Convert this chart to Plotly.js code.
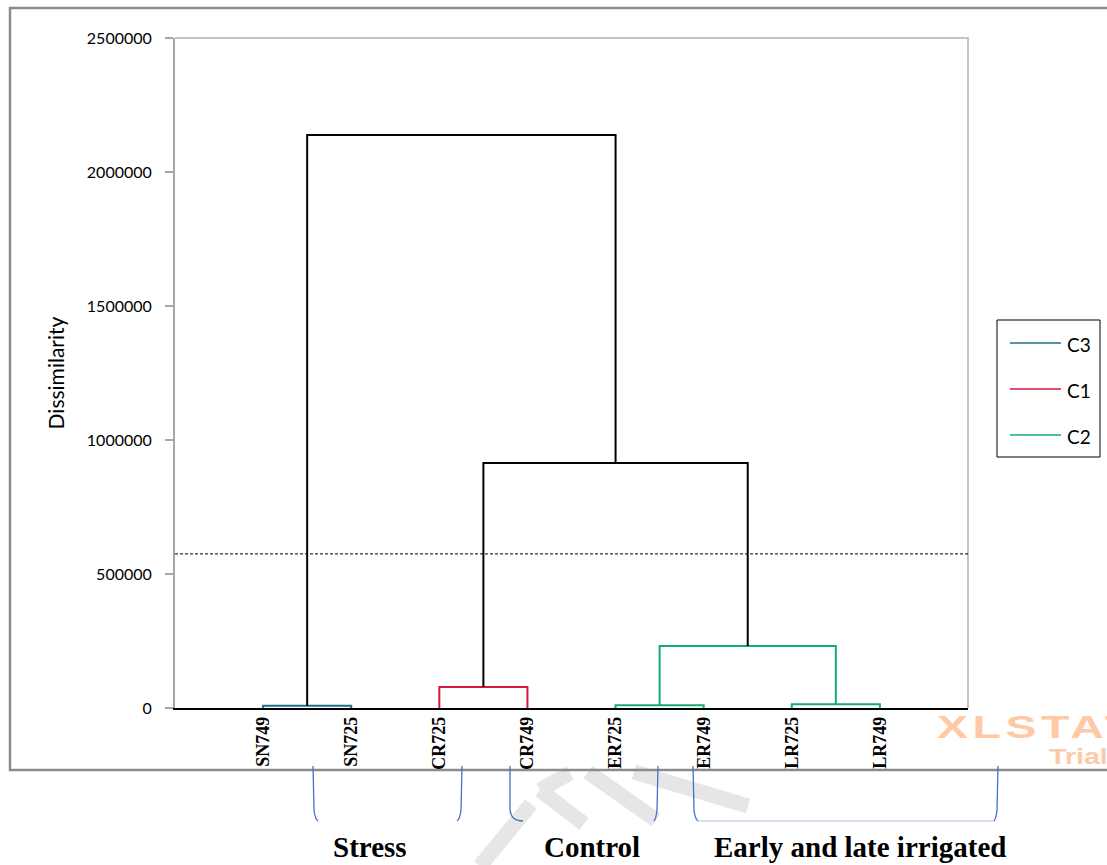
<!DOCTYPE html>
<html><head><meta charset="utf-8">
<script src="https://cdn.plot.ly/plotly-3.0.1.min.js"></script>
<style>html,body{margin:0;padding:0;background:#fff;overflow:hidden}</style>
</head><body><div id="chart" style="width:1107px;height:865px"></div>
<script>
// ---- data ----
const leaves = ["SN749","SN725","CR725","CR749","ER725","ER749","LR725","LR749"];
const leafPos = [1,2,3,4,5,6,7,8];
// node ids: 0-7 leaves, 8+ merges in order
const mergeLeft   = [0, 2, 4, 6, 10, 9, 8];
const mergeRight  = [1, 3, 5, 7, 11, 12, 13];
const mergeHeight = [8000, 78000, 10000, 14000, 231000, 914000, 2138000];
const mergeCluster = ["C3","C1","C2","C2","C2","",""];
const clusterNames  = ["C3","C1","C2"];
const clusterColors = ["#1f6e8c","#d6163f","#15ac6f"];
const truncationLevel = 575000;
const yTicks = [0,500000,1000000,1500000,2000000,2500000];
const groupLabels = ["Stress","Control","Early and late irrigated"];

// ---- build dendrogram ----
const nodeX = leafPos.slice(), nodeH = leaves.map(()=>0);
const segs = {};
mergeLeft.forEach((l,k)=>{
  const r = mergeRight[k], h = mergeHeight[k];
  const key = mergeCluster[k] || "black";
  if(!segs[key]) segs[key] = {x:[],y:[]};
  segs[key].x.push(nodeX[l], nodeX[l], nodeX[r], nodeX[r], null);
  segs[key].y.push(nodeH[l], h, h, nodeH[r], null);
  nodeX.push((nodeX[l]+nodeX[r])/2); nodeH.push(h);
});
const traces = [];
clusterNames.forEach((c,i)=>{
  traces.push({x:segs[c].x, y:segs[c].y, mode:"lines", type:"scatter", name:c,
    showlegend:false, line:{color:clusterColors[i], width:2}, hoverinfo:"skip"});
});
traces.push({x:segs.black.x, y:segs.black.y, mode:"lines", type:"scatter", name:"",
  showlegend:false, line:{color:"#000", width:2}, hoverinfo:"skip"});

// ---- pixel helpers for decorations (plot area 175..968 x 38..708) ----
const PL=175, PR=968, PT=38, PB=708;
const fx = p => (p-PL)/(PR-PL);
const fy = p => (PB-p)/(PB-PT);
function path(cmds){
  return cmds.map(c=>{
    let s=c[0];
    for(let i=1;i<c.length;i+=2) s+=" "+fx(c[i]).toFixed(5)+","+fy(c[i+1]).toFixed(5);
    return s;
  }).join(" ");
}
const shapes = [];
// watermark grey strokes
const wm = [[480,866,531,804],[540,790,570,773],[540,790,584,824],[588,772,656,820],[634,772,748,806]];
wm.forEach(w=>shapes.push({type:"line",xref:"paper",yref:"paper",x0:fx(w[0]),y0:fy(w[1]),x1:fx(w[2]),y1:fy(w[3]),
  line:{color:"#e6e6e6",width:15},layer:"below"}));
// outer frame
shapes.push({type:"rect",xref:"paper",yref:"paper",x0:fx(10),y0:fy(770),x1:fx(1125),y1:fy(8),
  line:{color:"#8c8c8c",width:2.5},layer:"below"});
// plot area top/right border
shapes.push({type:"path",xref:"paper",yref:"paper",path:path([["M",175,38],["L",968,38],["L",968,708]]),
  line:{color:"#c4c4c4",width:2},layer:"below"});
// truncation line
shapes.push({type:"line",xref:"paper",yref:"y",x0:0,x1:1,y0:truncationLevel,y1:truncationLevel,
  line:{color:"#000",width:1,dash:"3px,2px"}});
// brackets
const bc = "#4472c4";
const br = [
  [["M",313,766],["L",314,810],["Q",315,819,318,821]],
  [["M",462,766],["L",461,810],["Q",460,819,457,821]],
  [["M",510,766],["L",510,810],["Q",511,821,523,821]],
  [["M",658,766],["L",657,810],["Q",656,819,654,821]],
  [["M",693,766],["L",694,810],["Q",695,819,698,821]],
  [["M",998,766],["L",997,810],["Q",996,819,994,821]]
];
br.forEach(b=>shapes.push({type:"path",xref:"paper",yref:"paper",path:path(b),line:{color:bc,width:1.3}}));
shapes.push({type:"line",xref:"paper",yref:"paper",x0:fx(698),x1:fx(994),y0:fy(821),y1:fy(821),
  line:{color:"#a9c2e8",width:1}});

// legend (drawn from the cluster arrays)
shapes.push({type:"rect",xref:"paper",yref:"paper",x0:fx(997),y0:fy(457),x1:fx(1100),y1:fy(320),
  line:{color:"#000",width:1},fillcolor:"#fff"});
const legY = [343,389,435];
const annotations = [];
clusterNames.forEach((c,i)=>{
  shapes.push({type:"line",xref:"paper",yref:"paper",x0:fx(1010),x1:fx(1061),y0:fy(legY[i]),y1:fy(legY[i]),
    line:{color:clusterColors[i],width:1.5}});
  annotations.push({xref:"paper",yref:"paper",x:fx(1065),y:fy(legY[i]+1),xanchor:"left",yanchor:"middle",
    text:c,showarrow:false,font:{family:"Lato, Liberation Sans, sans-serif",size:19,color:"#000"}});
});

const gx = [370, 592, 860];
groupLabels.forEach((t,i)=>annotations.push({xref:"paper",yref:"paper",x:fx(gx[i]),y:fy(847),
  text:"<b>"+t+"</b>",showarrow:false,xanchor:"center",yanchor:"middle",
  font:{family:"Liberation Serif, Times New Roman, serif",size:29,color:"#000"}}));
annotations.push({xref:"paper",yref:"paper",x:fx(935),y:fy(727),xanchor:"left",yanchor:"middle",
  text:'<span style="letter-spacing:3px">XLSTAT</span>',showarrow:false,
  font:{family:"Liberation Sans, Arial, sans-serif",size:31,color:"#ffc9a6",weight:"bold"}});
annotations.push({xref:"paper",yref:"paper",x:fx(1047),y:fy(756),xanchor:"left",yanchor:"middle",
  text:'Trial',showarrow:false,
  font:{family:"Liberation Sans, Arial, sans-serif",size:22,color:"#fdcaa8",weight:"bold"}});

const layout = {
  width:1107, height:865,
  margin:{l:175, r:139, t:38, b:157, pad:0},
  paper_bgcolor:"#fff", plot_bgcolor:"#fff",
  font:{family:"Lato, Liberation Sans, sans-serif", color:"#000"},
  xaxis:{range:[0,9], tickvals:leafPos, ticktext:leaves, tickangle:-90, showgrid:false, zeroline:false,
    showline:true, linecolor:"#000", linewidth:1.5, ticks:"", fixedrange:true,
    tickfont:{family:"Liberation Serif, Times New Roman, serif", size:18, color:"#000", weight:"bold"}},
  yaxis:{range:[0,2500000], tickvals:yTicks, ticktext:yTicks.map(String), showgrid:false, zeroline:false,
    showline:true, linecolor:"#a6a6a6", linewidth:2, ticks:"outside", ticklen:8, tickcolor:"#a6a6a6", tickwidth:1.5,
    ticklabelstandoff:10, tickfont:{family:"Lato, Liberation Sans, sans-serif", size:16, color:"#000"},
    title:{text:"Dissimilarity", standoff:16, font:{family:"Lato, Liberation Sans, sans-serif", size:21, color:"#000"}}},
  shapes:shapes, annotations:annotations, showlegend:false
};
Plotly.newPlot("chart", traces, layout, {staticPlot:true, displayModeBar:false}).then(gd=>{
  gd.querySelectorAll('.annotation-text').forEach(t=>{
    const s = {"XLSTAT":1.5, "Trial":1.3}[t.textContent];
    if(s){ const b=t.getBBox(); const x0=b.x;
      t.setAttribute('transform',`translate(${x0},0) scale(${s},1) translate(${-x0},0)`); }
  });
});
</script></body></html>
